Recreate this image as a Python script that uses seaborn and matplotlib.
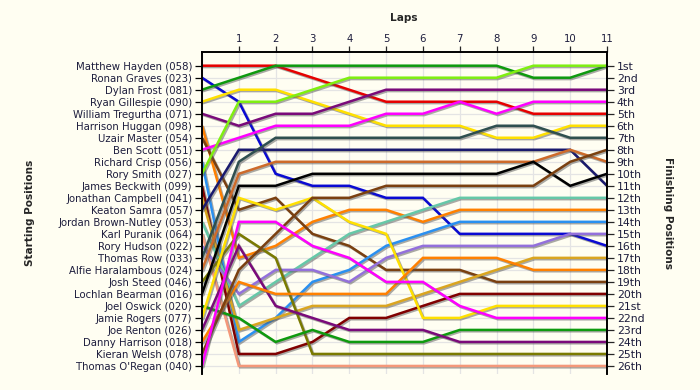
import matplotlib
matplotlib.use("Agg")
import matplotlib.pyplot as plt
import matplotlib.patheffects as pe
import seaborn as sns
import pandas as pd

drivers = [
    "Matthew Hayden (058)", "Ronan Graves (023)", "Dylan Frost (081)", "Ryan Gillespie (090)",
    "William Tregurtha (071)", "Harrison Huggan (098)", "Uzair Master (054)", "Ben Scott (051)",
    "Richard Crisp (056)", "Rory Smith (027)", "James Beckwith (099)", "Jonathan Campbell (041)",
    "Keaton Samra (057)", "Jordan Brown-Nutley (053)", "Karl Puranik (064)", "Rory Hudson (022)",
    "Thomas Row (033)", "Alfie Haralambous (024)", "Josh Steed (046)", "Lochlan Bearman (016)",
    "Joel Oswick (020)", "Jamie Rogers (077)", "Joe Renton (026)", "Danny Harrison (018)",
    "Kieran Welsh (078)", "Thomas O'Regan (040)",
]

laps = list(range(0, 12))
lap_labels = [str(i) for i in range(1, 12)]

positions = [
    [1, 1, 1, 2, 3, 4, 4, 4, 4, 5, 5, 5],
    [2, 4, 10, 11, 11, 12, 12, 15, 15, 15, 15, 16],
    [3, 2, 1, 1, 1, 1, 1, 1, 1, 2, 2, 1],
    [4, 3, 3, 4, 5, 6, 6, 6, 7, 7, 6, 6],
    [5, 6, 5, 5, 4, 3, 3, 3, 3, 3, 3, 3],
    [6, 17, 16, 14, 13, 13, 14, 13, 13, 13, 13, 13],
    [7, 13, 12, 15, 16, 18, 18, 18, 19, 19, 19, 19],
    [8, 7, 6, 6, 6, 5, 5, 4, 5, 4, 4, 4],
    [9, 24, 22, 19, 18, 16, 15, 14, 14, 14, 14, 14],
    [10, 4, 4, 3, 2, 2, 2, 2, 2, 1, 1, 1],
    [11, 25, 25, 24, 22, 22, 21, 20, 20, 20, 20, 20],
    [12, 23, 22, 21, 21, 21, 20, 19, 18, 17, 17, 17],
    [13, 8, 8, 8, 8, 8, 8, 8, 8, 8, 8, 11],
    [14, 21, 19, 17, 15, 14, 13, 12, 12, 12, 12, 12],
    [15, 26, 26, 26, 26, 26, 26, 26, 26, 26, 26, 26],
    [16, 20, 18, 18, 19, 17, 16, 16, 16, 16, 15, 15],
    [17, 9, 7, 7, 7, 7, 7, 7, 6, 6, 7, 7],
    [18, 10, 9, 9, 9, 9, 9, 9, 9, 9, 8, 9],
    [19, 15, 17, 25, 25, 25, 25, 25, 25, 25, 25, 25],
    [20, 11, 11, 10, 10, 10, 10, 10, 10, 9, 11, 10],
    [21, 22, 24, 23, 24, 24, 24, 23, 23, 23, 23, 23],
    [22, 12, 13, 12, 14, 15, 22, 22, 21, 21, 21, 21],
    [23, 16, 21, 22, 23, 23, 23, 24, 24, 24, 24, 24],
    [24, 19, 20, 20, 20, 20, 17, 17, 17, 18, 18, 18],
    [25, 18, 15, 12, 12, 11, 11, 11, 11, 11, 9, 8],
    [26, 14, 14, 16, 17, 19, 19, 21, 22, 22, 22, 22],
]

colors = [
    "#E60000", "#0A0AD2", "#0E9A0E", "#FFE000", "#7A0A7A", "#FF8000", "#7A4010", "#FF00FF",
    "#2A90F0", "#7FEF10", "#800000", "#DAA520", "#1A1A6E", "#66C8A8", "#F4987A", "#9370DB",
    "#2F4F4F", "#CD6A2A", "#7A7A00", "#000000", "#0E9A0E", "#FFE000", "#7A0A7A", "#FF8000",
    "#7A4010", "#FF00FF",
]

finish_labels = ["1st", "2nd", "3rd"] + [f"{i}th" for i in range(4, 21)] + ["21st", "22nd", "23rd", "24th", "25th", "26th"]

rows = []
for d, pos in zip(drivers, positions):
    for lap, p in zip(laps, pos):
        rows.append({"driver": d, "lap": lap, "pos": p})
df = pd.DataFrame(rows)

sns.set_style("white")
plt.rcParams["font.family"] = ["DejaVu Sans"]

bg = "#FFFEF2"
fig = plt.figure(figsize=(7, 3.9), dpi=100, facecolor=bg)
ax = fig.add_axes([202 / 700, 1 - 374 / 390, 405 / 700, (374 - 52) / 390])
ax.set_facecolor(bg)

# grid
for x in range(0, 12):
    ax.axvline(x, color="#E4E4E4", lw=0.9, zorder=0)
for y in range(1, 27):
    ax.axhline(y, color="#E4E4E4", lw=0.9, zorder=0)

sns.lineplot(data=df, x="lap", y="pos", hue="driver", hue_order=drivers,
             palette=dict(zip(drivers, colors)), legend=False, sort=False,
             estimator=None, lw=1.8, ax=ax)
for ln in ax.lines:
    if ln.get_linewidth() > 1.5:
        ln.set_path_effects([pe.SimpleLineShadow(offset=(1.0, -1.0), shadow_color="#555555", alpha=0.5),
                             pe.Normal()])
        ln.set_solid_joinstyle("miter")

ax.set_xlim(0, 11)
ax.set_ylim(26.67, -0.14)

txtc = "#1C1C3C"
fs = 7.3
ax.set_yticks(range(1, 27))
ax.set_yticklabels(drivers, fontsize=fs, color=txtc)
ax.tick_params(axis="y", left=True, right=True, labelleft=True, labelright=False,
               length=5, width=0.9, direction="out", pad=2, colors="black")
for t in ax.get_yticklabels():
    t.set_color(txtc)

ax.xaxis.tick_top()
ax.set_xticks(range(1, 12))
ax.set_xticklabels(lap_labels, fontsize=fs, color=txtc)
ax.tick_params(axis="x", top=True, bottom=False, length=4, width=0.9, direction="out", pad=2)
ax.set_xlabel("")
ax.set_ylabel("")

ax2 = ax.twinx()
ax2.set_ylim(ax.get_ylim())
ax2.set_yticks(range(1, 27))
ax2.set_yticklabels(finish_labels, fontsize=7.8, color=txtc)
ax2.tick_params(axis="y", right=True, length=5, width=0.9, direction="out", pad=2)

for a in (ax, ax2):
    for side in ("left", "right", "top"):
        a.spines[side].set_visible(True)
        a.spines[side].set_color("black")
        a.spines[side].set_linewidth(1.2)
    a.spines["bottom"].set_visible(False)

fig.text(404 / 700, 1 - 18 / 390, "Laps", ha="center", va="center", fontsize=7.6, fontweight="bold")
fig.text(30 / 700, 1 - 213 / 390, "Starting Positions", ha="center", va="center",
         rotation=90, fontsize=7.6, fontweight="bold")
fig.text(668 / 700, 1 - 213 / 390, "Finishing Positions", ha="center", va="center",
         rotation=270, fontsize=7.6, fontweight="bold")

fig.savefig("out.png", dpi=100, facecolor=bg)
